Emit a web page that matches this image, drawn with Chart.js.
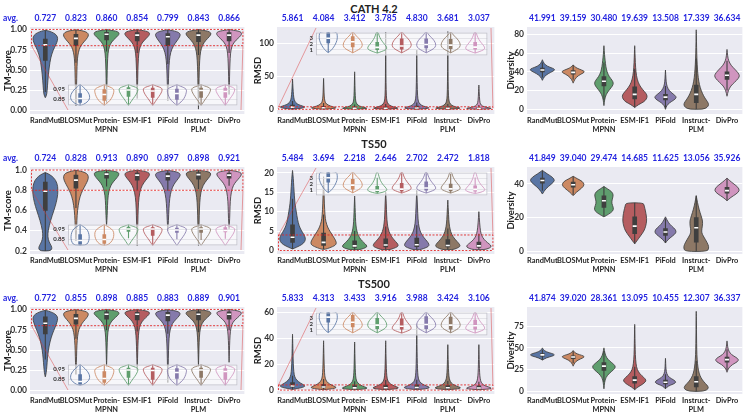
<!DOCTYPE html>
<html>
<head>
<meta charset="utf-8">
<script src="https://cdn.jsdelivr.net/npm/chart.js@4.4.1/dist/chart.umd.min.js"></script>
<style>
  html, body { margin: 0; padding: 0; background: #fff; width: 748px; height: 417px; overflow: hidden; }
  #page { position: relative; width: 748px; height: 417px; }
  canvas { position: absolute; }
  .title { position: absolute; left: 0; width: 748px; text-align: center; font: bold 11px Lato, sans-serif; color: #222; line-height: 13px; }
</style>
</head>
<body>
<div id="page"></div>
<script>
const CATEGORIES = ['RandMut', 'BLOSMut', 'Protein-MPNN', 'ESM-IF1', 'PiFold', 'Instruct-PLM', 'DivPro'];
const TICK_LABELS = ['RandMut', 'BLOSMut', ['Protein-', 'MPNN'], 'ESM-IF1', 'PiFold', ['Instruct-', 'PLM'], 'DivPro'];
const COLORS = ['#5975a4', '#cc8963', '#5f9e6e', '#b55d60', '#857aab', '#8d7866', '#d095bf'];
const EDGE = '#3f3f3f';

// averages printed above each panel
const cathTmAvg = [0.727, 0.823, 0.860, 0.854, 0.799, 0.843, 0.866];
const cathRmsdAvg = [5.861, 4.084, 3.412, 3.785, 4.830, 3.681, 3.037];
const cathDivAvg = [41.991, 39.159, 30.480, 19.639, 13.508, 17.339, 36.634];
const ts50TmAvg = [0.724, 0.828, 0.913, 0.890, 0.897, 0.898, 0.921];
const ts50RmsdAvg = [5.484, 3.694, 2.218, 2.646, 2.702, 2.472, 1.818];
const ts50DivAvg = [41.849, 39.040, 29.474, 14.685, 11.625, 13.056, 35.926];
const ts500TmAvg = [0.772, 0.855, 0.898, 0.885, 0.883, 0.889, 0.901];
const ts500RmsdAvg = [5.833, 4.313, 3.433, 3.916, 3.988, 3.424, 3.106];
const ts500DivAvg = [41.874, 39.020, 28.361, 13.095, 10.455, 12.307, 36.337];

// tick values
const tmTicks = [0, 0.25, 0.5, 0.75, 1.0];
const ts50TmTicks = [0.2, 0.4, 0.6, 0.8, 1.0];
const cathRmsdTicks = [0, 50, 100];
const ts50RmsdTicks = [0, 5, 10, 15, 20];
const ts500RmsdTicks = [0, 20, 40, 60];
const cathDivTicks = [0, 20, 40, 60, 80];
const ts50DivTicks = [0, 20, 40];
const ts500DivTicks = [0, 25, 50, 75];
const tmInsetTicks = [0.85, 0.95];
const rmsdInsetTicks = [1, 2, 3];

// violin outlines: value, half width (in category units)
const cathTmShape = [
  [0.16,0, 0.2,0.05, 0.3,0.07, 0.45,0.1, 0.6,0.15, 0.7,0.21, 0.78,0.3, 0.84,0.38, 0.89,0.41, 0.93,0.37, 0.96,0.26, 0.98,0.12, 0.99,0],
  [0.06,0, 0.2,0.015, 0.4,0.025, 0.55,0.035, 0.65,0.05, 0.72,0.08, 0.78,0.13, 0.83,0.22, 0.88,0.34, 0.92,0.41, 0.95,0.4, 0.97,0.33, 0.985,0.2, 0.995,0],
  [0.1,0, 0.3,0.012, 0.5,0.02, 0.65,0.035, 0.75,0.06, 0.82,0.12, 0.87,0.22, 0.91,0.34, 0.94,0.41, 0.965,0.4, 0.98,0.3, 0.99,0.14, 0.998,0],
  [0.15,0, 0.3,0.012, 0.5,0.022, 0.65,0.038, 0.75,0.065, 0.82,0.13, 0.87,0.24, 0.91,0.35, 0.94,0.41, 0.965,0.39, 0.98,0.28, 0.99,0.13, 0.998,0],
  [0.12,0, 0.3,0.015, 0.5,0.03, 0.62,0.05, 0.72,0.09, 0.8,0.18, 0.86,0.3, 0.91,0.39, 0.94,0.41, 0.965,0.35, 0.98,0.22, 0.99,0.1, 0.995,0],
  [0.02,0, 0.2,0.012, 0.4,0.02, 0.55,0.03, 0.68,0.05, 0.77,0.09, 0.84,0.18, 0.89,0.3, 0.93,0.4, 0.96,0.41, 0.98,0.3, 0.99,0.14, 0.998,0],
  [0.2,0, 0.35,0.012, 0.5,0.02, 0.65,0.035, 0.75,0.06, 0.82,0.12, 0.87,0.23, 0.91,0.35, 0.94,0.41, 0.965,0.4, 0.98,0.3, 0.99,0.14, 0.998,0]
];
const cathTmBox = [[0.62,0.81,0.88], [0.80,0.89,0.94], [0.87,0.94,0.965], [0.86,0.93,0.96], [0.80,0.91,0.95], [0.85,0.93,0.96], [0.86,0.93,0.96]];

const ts50TmShape = [
  [0.2,0.15, 0.22,0.22, 0.25,0.2, 0.29,0.12, 0.34,0.08, 0.4,0.09, 0.5,0.17, 0.6,0.28, 0.68,0.36, 0.76,0.41, 0.84,0.41, 0.9,0.34, 0.94,0.22, 0.965,0.08, 0.975,0],
  [0.3,0, 0.4,0.02, 0.5,0.03, 0.6,0.05, 0.7,0.1, 0.77,0.17, 0.83,0.27, 0.88,0.36, 0.92,0.41, 0.955,0.39, 0.975,0.3, 0.99,0.14, 0.997,0],
  [0.45,0, 0.55,0.02, 0.65,0.03, 0.75,0.05, 0.82,0.1, 0.87,0.18, 0.91,0.3, 0.94,0.38, 0.965,0.41, 0.98,0.36, 0.99,0.22, 0.998,0],
  [0.25,0, 0.4,0.015, 0.55,0.025, 0.68,0.04, 0.78,0.08, 0.85,0.16, 0.9,0.28, 0.935,0.38, 0.96,0.41, 0.978,0.36, 0.99,0.2, 0.998,0],
  [0.4,0, 0.5,0.02, 0.62,0.035, 0.72,0.06, 0.8,0.11, 0.86,0.2, 0.9,0.3, 0.935,0.39, 0.958,0.41, 0.975,0.35, 0.988,0.2, 0.996,0],
  [0.25,0, 0.4,0.015, 0.55,0.025, 0.68,0.04, 0.78,0.075, 0.85,0.15, 0.9,0.27, 0.935,0.37, 0.962,0.41, 0.98,0.36, 0.99,0.2, 0.998,0],
  [0.42,0, 0.52,0.02, 0.64,0.03, 0.74,0.05, 0.82,0.1, 0.87,0.18, 0.91,0.3, 0.94,0.38, 0.962,0.41, 0.978,0.36, 0.99,0.2, 0.998,0]
];
const ts50TmBox = [[0.6,0.79,0.88], [0.82,0.9,0.95], [0.92,0.96,0.975], [0.9,0.95,0.97], [0.9,0.94,0.97], [0.91,0.955,0.975], [0.92,0.95,0.97]];

const ts500TmShape = [
  [0.17,0, 0.22,0.03, 0.3,0.05, 0.4,0.07, 0.5,0.1, 0.6,0.15, 0.7,0.23, 0.78,0.32, 0.84,0.38, 0.89,0.41, 0.93,0.37, 0.96,0.25, 0.98,0.1, 0.99,0],
  [0.2,0, 0.35,0.015, 0.5,0.025, 0.62,0.04, 0.72,0.07, 0.79,0.13, 0.85,0.24, 0.9,0.36, 0.935,0.41, 0.96,0.39, 0.978,0.3, 0.99,0.14, 0.997,0],
  [0.3,0, 0.45,0.012, 0.6,0.022, 0.72,0.04, 0.8,0.08, 0.86,0.17, 0.905,0.3, 0.94,0.4, 0.962,0.41, 0.98,0.33, 0.99,0.18, 0.998,0],
  [0.25,0, 0.4,0.012, 0.55,0.022, 0.68,0.038, 0.78,0.07, 0.85,0.15, 0.9,0.28, 0.935,0.38, 0.958,0.41, 0.977,0.35, 0.99,0.18, 0.998,0],
  [0.1,0, 0.3,0.012, 0.5,0.022, 0.65,0.04, 0.75,0.07, 0.83,0.15, 0.88,0.27, 0.92,0.37, 0.95,0.41, 0.972,0.35, 0.988,0.18, 0.997,0],
  [0.3,0, 0.45,0.012, 0.6,0.022, 0.72,0.04, 0.8,0.08, 0.86,0.17, 0.905,0.3, 0.94,0.4, 0.962,0.41, 0.98,0.33, 0.99,0.18, 0.998,0],
  [0.35,0, 0.5,0.012, 0.62,0.022, 0.73,0.04, 0.81,0.08, 0.86,0.16, 0.9,0.28, 0.935,0.38, 0.958,0.41, 0.977,0.35, 0.99,0.18, 0.998,0]
];
const ts500TmBox = [[0.7,0.83,0.91], [0.82,0.89,0.94], [0.88,0.94,0.97], [0.87,0.94,0.965], [0.86,0.93,0.965], [0.87,0.94,0.97], [0.88,0.94,0.97]];

// TM-score insets (only structures above 0.8)
const tmInsetLow = [0.79,0.05, 0.81,0.22, 0.84,0.36, 0.87,0.4, 0.9,0.38, 0.93,0.31, 0.96,0.2, 0.98,0.1, 0.995,0.04, 1.0,0.02];
const tmInsetFlat = [0.79,0.24, 0.82,0.34, 0.86,0.38, 0.9,0.37, 0.94,0.32, 0.97,0.2, 0.99,0.07, 1.0,0.03];
const tmInsetBroad = [0.79,0.1, 0.82,0.28, 0.86,0.37, 0.9,0.4, 0.94,0.37, 0.97,0.22, 0.99,0.07, 1.0,0.03];
const tmInsetMid = [0.79,0, 0.81,0.1, 0.84,0.24, 0.88,0.34, 0.92,0.39, 0.945,0.4, 0.962,0.35, 0.977,0.22, 0.99,0.08, 1.0,0.03];
const tmInsetHigh = [0.79,0, 0.81,0.06, 0.845,0.15, 0.88,0.26, 0.915,0.35, 0.948,0.4, 0.967,0.36, 0.98,0.22, 0.992,0.08, 1.0,0.03];
const cathTmInsetShape = [tmInsetLow, tmInsetMid, tmInsetHigh, tmInsetHigh, tmInsetMid, tmInsetHigh, tmInsetHigh];
const cathTmInsetBox = [[0.82,0.86,0.91], [0.84,0.9,0.95], [0.88,0.945,0.97], [0.87,0.935,0.965], [0.85,0.91,0.955], [0.87,0.94,0.965], [0.87,0.93,0.965]];
const ts50TmInsetShape = [tmInsetFlat, tmInsetBroad, tmInsetHigh, tmInsetHigh, tmInsetHigh, tmInsetHigh, tmInsetHigh];
const ts50TmInsetBox = [[0.8,0.84,0.9], [0.81,0.85,0.9], [0.93,0.955,0.975], [0.89,0.955,0.97], [0.92,0.945,0.965], [0.92,0.955,0.97], [0.925,0.94,0.97]];
const ts500TmInsetShape = [tmInsetLow, tmInsetMid, tmInsetHigh, tmInsetHigh, tmInsetMid, tmInsetHigh, tmInsetHigh];
const ts500TmInsetBox = [[0.80,0.83,0.9], [0.82,0.86,0.93], [0.87,0.945,0.965], [0.85,0.94,0.965], [0.86,0.92,0.96], [0.87,0.945,0.965], [0.85,0.93,0.96]];

const cathRmsdShape = [
  [0.3,0, 1,0.16, 2,0.33, 3.5,0.41, 5,0.33, 7,0.2, 10,0.1, 15,0.05, 22,0.03, 32,0.015, 46,0],
  [0.3,0, 1,0.25, 2,0.41, 3,0.37, 5,0.22, 8,0.09, 12,0.04, 20,0.02, 30,0.012, 47,0],
  [0.3,0, 1,0.35, 1.8,0.41, 3,0.3, 5,0.15, 8,0.07, 12,0.035, 20,0.02, 35,0.01, 57,0],
  [0.3,0, 1,0.33, 1.9,0.41, 3,0.32, 5,0.17, 8,0.08, 12,0.04, 20,0.02, 40,0.01, 70,0.006, 117,0],
  [0.3,0, 1,0.28, 2,0.41, 3.2,0.35, 5,0.2, 8,0.1, 12,0.05, 20,0.025, 40,0.012, 65,0.006, 90,0],
  [0.3,0, 1,0.32, 1.9,0.41, 3,0.32, 5,0.17, 8,0.08, 12,0.04, 20,0.02, 40,0.01, 75,0.005, 118,0],
  [0.3,0, 0.9,0.36, 1.6,0.41, 2.6,0.3, 4,0.16, 6.5,0.07, 10,0.035, 18,0.018, 37,0]
];
const cathRmsdBox = [[2.3,3.5,6.5], [1.5,2.5,4.8], [1.0,1.6,3.5], [1.1,1.8,4.0], [1.3,2.2,5.0], [1.1,1.8,3.9], [1.0,1.6,3.2]];

const ts50RmsdShape = [
  [0.4,0, 0.8,0.12, 1.5,0.3, 2.3,0.4, 3.2,0.42, 4.2,0.36, 5.2,0.28, 6.4,0.21, 8,0.16, 10,0.12, 12,0.08, 14,0.06, 16.5,0.04, 18.6,0.025, 20.6,0],
  [0.3,0.05, 0.7,0.2, 1.3,0.38, 2,0.42, 3,0.36, 4,0.28, 5,0.2, 6,0.13, 7.5,0.07, 9,0.045, 12,0.025, 15,0.015, 19,0],
  [0.2,0.15, 0.5,0.28, 0.9,0.4, 1.4,0.38, 2,0.3, 2.8,0.2, 3.8,0.12, 5,0.07, 6.5,0.04, 8.5,0.025, 11,0.015, 14,0],
  [0.2,0.12, 0.5,0.24, 1,0.4, 1.6,0.4, 2.3,0.32, 3.2,0.22, 4.2,0.14, 5.5,0.08, 7,0.05, 9,0.03, 12,0.02, 15,0],
  [0.2,0.1, 0.5,0.22, 1,0.38, 1.6,0.4, 2.4,0.33, 3.4,0.22, 4.5,0.13, 6,0.07, 8,0.04, 11,0.025, 15.5,0],
  [0.2,0.14, 0.5,0.27, 1,0.4, 1.6,0.38, 2.3,0.3, 3.2,0.2, 4.2,0.12, 5.5,0.07, 7,0.04, 9,0.025, 13,0],
  [0.2,0.16, 0.5,0.3, 0.9,0.4, 1.4,0.38, 2,0.28, 2.8,0.17, 3.8,0.09, 5,0.05, 7,0.025, 10,0]
];
const ts50RmsdBox = [[2.1,3.4,6.6], [1.3,2.1,4.5], [0.8,1.2,2.5], [0.9,1.4,3.0], [1.0,1.5,3.2], [0.9,1.3,2.8], [0.8,1.2,2.2]];

const ts500RmsdShape = [
  [0.5,0, 1.2,0.15, 2,0.32, 3,0.41, 4,0.36, 5.5,0.25, 7.5,0.14, 10,0.07, 14,0.04, 20,0.025, 28,0.015, 36,0.008, 43,0],
  [0.3,0, 0.8,0.2, 1.5,0.38, 2.2,0.41, 3.2,0.32, 4.5,0.2, 6.5,0.1, 9,0.05, 13,0.03, 20,0.018, 28,0.01, 38,0],
  [0.3,0, 0.7,0.25, 1.3,0.41, 2,0.38, 3,0.26, 4.5,0.14, 6.5,0.07, 9,0.04, 13,0.025, 20,0.015, 28,0.008, 37,0],
  [0.3,0, 0.7,0.22, 1.3,0.4, 2,0.41, 3,0.3, 4.5,0.16, 6.5,0.08, 9,0.045, 13,0.028, 20,0.016, 28,0.009, 38,0],
  [0.3,0, 0.8,0.2, 1.5,0.39, 2.2,0.41, 3.2,0.31, 4.7,0.17, 6.5,0.09, 9,0.05, 13,0.03, 20,0.018, 30,0.01, 40,0.006, 51,0],
  [0.3,0, 0.7,0.23, 1.3,0.4, 2,0.41, 3,0.29, 4.5,0.15, 6.5,0.08, 9,0.045, 13,0.027, 20,0.015, 27,0.008, 35,0],
  [0.3,0, 0.7,0.25, 1.2,0.41, 1.9,0.38, 2.8,0.26, 4,0.14, 6,0.07, 9,0.04, 13,0.024, 20,0.014, 27,0.008, 35,0]
];
const ts500RmsdBox = [[2.3,3.2,5.8], [1.6,2.4,4.4], [1.1,1.7,3.4], [1.2,1.8,3.8], [1.3,2.0,4.0], [1.2,1.8,3.5], [1.1,1.6,3.2]];

// RMSD insets (only structures below 4 A)
const rmsdInsetWide = [0.5,0, 0.8,0.1, 1.2,0.18, 1.7,0.26, 2.3,0.33, 2.9,0.37, 3.5,0.37, 4.2,0.34];
const rmsdInsetMid = [0.45,0, 0.8,0.15, 1.2,0.32, 1.7,0.4, 2.3,0.37, 2.9,0.27, 3.4,0.15, 3.8,0.07, 4.1,0.04];
const rmsdInsetLow = [0.4,0, 0.65,0.16, 0.95,0.34, 1.25,0.4, 1.65,0.36, 2.2,0.25, 2.8,0.15, 3.4,0.08, 4.1,0.04];
const rmsdInsetLowest = [0.35,0, 0.5,0.2, 0.8,0.38, 1.05,0.4, 1.45,0.33, 1.95,0.22, 2.6,0.13, 3.3,0.07, 4.1,0.03];
const cathRmsdInsetShape = [rmsdInsetWide, rmsdInsetMid, rmsdInsetLow, rmsdInsetMid, rmsdInsetMid, rmsdInsetMid, rmsdInsetLow];
const cathRmsdInsetBox = [[2.2,3.0,4.2], [1.5,2.4,3.3], [1.0,1.4,2.3], [1.1,1.65,2.9], [1.3,1.9,2.9], [1.2,1.8,2.8], [1.1,1.45,2.3]];
const ts50RmsdInsetShape = [rmsdInsetWide, rmsdInsetMid, rmsdInsetLowest, rmsdInsetLow, rmsdInsetLow, rmsdInsetLow, rmsdInsetLowest];
const ts50RmsdInsetBox = [[2.3,3.1,4.2], [1.1,1.8,2.8], [0.6,0.9,1.6], [0.75,1.1,2.1], [0.9,1.3,2.4], [0.8,1.15,2.0], [0.75,1.05,1.7]];
const ts500RmsdInsetShape = [rmsdInsetWide, rmsdInsetMid, rmsdInsetMid, rmsdInsetLow, rmsdInsetMid, rmsdInsetMid, rmsdInsetLow];
const ts500RmsdInsetBox = [[2.3,3.2,4.2], [1.5,2.3,3.5], [1.2,1.8,3.0], [1.1,1.6,2.9], [1.2,1.9,3.3], [1.1,1.8,3.2], [1.1,1.7,2.7]];

const cathDivShape = [
  [31,0, 35,0.06, 38,0.18, 41,0.36, 42.5,0.41, 44,0.33, 46,0.16, 49,0.05, 53,0],
  [28,0, 32,0.05, 36,0.16, 39,0.34, 40.5,0.37, 42,0.28, 44,0.12, 46,0.04, 47.5,0],
  [4,0, 10,0.02, 16,0.07, 21,0.18, 25,0.28, 28,0.31, 31,0.27, 35,0.17, 40,0.1, 46,0.06, 52,0.04, 58,0.02, 68,0],
  [2,0, 5,0.12, 8,0.3, 11,0.38, 14,0.41, 17,0.37, 21,0.26, 26,0.15, 32,0.08, 40,0.04, 50,0.02, 60,0.01, 68,0],
  [0,0, 4,0.04, 7,0.13, 10,0.28, 12.5,0.36, 15,0.31, 18,0.18, 22,0.08, 27,0.03, 33,0.015, 42,0],
  [0,0.22, 2,0.36, 5,0.41, 8,0.37, 12,0.28, 17,0.2, 23,0.13, 30,0.08, 38,0.05, 48,0.03, 60,0.015, 72,0.008, 85,0],
  [14,0, 20,0.04, 25,0.12, 29,0.25, 33,0.37, 36,0.41, 39,0.36, 43,0.25, 47,0.13, 52,0.05, 57,0.02, 64,0]
];
const cathDivBox = [[40,42,44], [37.5,39.5,41.5], [25,30,35], [11,16,24], [10,13,16], [7,16,26], [32,36.5,40]];

const ts50DivShape = [
  [34,0, 37,0.1, 40,0.3, 42,0.41, 44,0.33, 46,0.15, 48,0],
  [33,0, 35,0.1, 37.5,0.28, 39.5,0.37, 41.5,0.3, 43,0.14, 44.5,0],
  [20.5,0, 22,0.15, 24,0.3, 26,0.31, 28.5,0.25, 31,0.27, 33.5,0.31, 35.5,0.25, 37,0.12, 38.5,0],
  [4.5,0, 6,0.06, 9,0.18, 12,0.3, 15,0.36, 18,0.39, 21,0.38, 24,0.35, 27,0.31, 28.8,0.28],
  [5,0, 7,0.08, 9,0.22, 11,0.35, 13,0.33, 15,0.2, 17,0.1, 19,0.04, 20.5,0],
  [0,0.36, 2,0.41, 4,0.39, 7,0.3, 10,0.2, 12,0.17, 15,0.2, 18,0.21, 21,0.16, 25,0.09, 29,0.04, 33,0],
  [30,0, 32,0.12, 34,0.3, 36,0.41, 38,0.36, 40,0.22, 42,0.08, 43.5,0]
];
const ts50DivBox = [[40.5,42,43.5], [38,39.5,41], [26,30,33], [10.5,15,20.5], [9.5,11.5,13.5], [5.5,14,20], [34.5,36,38]];

const ts500DivShape = [
  [36,0, 38.5,0.12, 40.5,0.32, 42,0.41, 43.5,0.32, 45.5,0.12, 48,0.03, 50,0],
  [29,0, 33,0.05, 36,0.15, 38.5,0.32, 40,0.37, 41.5,0.28, 43,0.13, 45,0.04, 47,0],
  [3,0, 10,0.02, 16,0.06, 21,0.18, 25,0.32, 28,0.38, 31,0.33, 35,0.18, 39,0.08, 44,0.03, 50,0],
  [2,0, 5,0.1, 8,0.25, 11,0.35, 13,0.37, 16,0.3, 20,0.17, 25,0.08, 32,0.04, 42,0.02, 55,0.012, 66,0.007, 77,0],
  [3,0, 6,0.08, 8.5,0.26, 10.5,0.35, 13,0.28, 16,0.12, 20,0.04, 26,0.015, 32,0.008, 38,0],
  [0,0.25, 3,0.4, 6,0.38, 9,0.3, 13,0.2, 18,0.12, 24,0.07, 32,0.04, 42,0.02, 55,0.012, 70,0.008, 92,0],
  [22,0, 27,0.05, 31,0.18, 34,0.34, 36.5,0.38, 39,0.3, 42,0.15, 46,0.06, 51,0.02, 58,0]
];
const ts500DivBox = [[40.5,42,43.5], [37.5,39.5,41], [24,29,33], [9.5,13,17], [8.5,10.5,13], [5,11,17], [33.5,36.5,39.5]];

// ---- layout ----
const COLS = [
  { left: 0, width: 250, axis: 30, padRight: 5, titlePad: 2 },
  { left: 250, width: 250, axis: 27, padRight: 4, titlePad: 2 },
  { left: 500, width: 248, axis: 27, padRight: 2, titlePad: 5 }
];
const ROW_H = 140, PLOT_TOP = 27, XAXIS_H = 26, INSET_AXIS = 20;
const TITLE_TOP = [2, 137, 277];
const INSET_FRAC = { tm: [0.177, 0.985, 0.61, 0.955], rmsd: [0.178, 0.985, 0.012, 0.38] };

const ROWS = [
  { title: 'CATH 4.2', panels: [
    { avg: cathTmAvg, shape: cathTmShape, box: cathTmBox, range: [-0.04, 1.03], ticks: tmTicks, dec: 2, label: 'TM-score',
      zoom: { kind: 'tm', lo: 0.8, hi: 1.0, shape: cathTmInsetShape, box: cathTmInsetBox, range: [0.79, 1.0], ticks: tmInsetTicks, dec: 2 } },
    { avg: cathRmsdAvg, shape: cathRmsdShape, box: cathRmsdBox, range: [-7, 125], ticks: cathRmsdTicks, dec: 0, label: 'RMSD',
      zoom: { kind: 'rmsd', lo: 0, hi: 4, shape: cathRmsdInsetShape, box: cathRmsdInsetBox, range: [0, 4], ticks: rmsdInsetTicks, dec: 0 } },
    { avg: cathDivAvg, shape: cathDivShape, box: cathDivBox, range: [-5, 88], ticks: cathDivTicks, dec: 0, label: 'Diversity' }
  ]},
  { title: 'TS50', panels: [
    { avg: ts50TmAvg, shape: ts50TmShape, box: ts50TmBox, range: [0.17, 1.03], ticks: ts50TmTicks, dec: 1, label: 'TM-score',
      zoom: { kind: 'tm', lo: 0.8, hi: 1.0, shape: ts50TmInsetShape, box: ts50TmInsetBox, range: [0.79, 1.0], ticks: tmInsetTicks, dec: 2 } },
    { avg: ts50RmsdAvg, shape: ts50RmsdShape, box: ts50RmsdBox, range: [-0.9, 21.5], ticks: ts50RmsdTicks, dec: 0, label: 'RMSD',
      zoom: { kind: 'rmsd', lo: 0, hi: 4, shape: ts50RmsdInsetShape, box: ts50RmsdInsetBox, range: [0, 4], ticks: rmsdInsetTicks, dec: 0 } },
    { avg: ts50DivAvg, shape: ts50DivShape, box: ts50DivBox, range: [-1.5, 50], ticks: ts50DivTicks, dec: 0, label: 'Diversity' }
  ]},
  { title: 'TS500', panels: [
    { avg: ts500TmAvg, shape: ts500TmShape, box: ts500TmBox, range: [-0.04, 1.03], ticks: tmTicks, dec: 2, label: 'TM-score',
      zoom: { kind: 'tm', lo: 0.8, hi: 1.0, shape: ts500TmInsetShape, box: ts500TmInsetBox, range: [0.79, 1.0], ticks: tmInsetTicks, dec: 2 } },
    { avg: ts500RmsdAvg, shape: ts500RmsdShape, box: ts500RmsdBox, range: [-3, 64], ticks: ts500RmsdTicks, dec: 0, label: 'RMSD',
      zoom: { kind: 'rmsd', lo: 0, hi: 4, shape: ts500RmsdInsetShape, box: ts500RmsdInsetBox, range: [0, 4], ticks: rmsdInsetTicks, dec: 0 } },
    { avg: ts500DivAvg, shape: ts500DivShape, box: ts500DivBox, range: [-3, 97], ticks: ts500DivTicks, dec: 0, label: 'Diversity' }
  ]}
];

const page = document.getElementById('page');

function addCanvas(left, top, w, h) {
  const c = document.createElement('canvas');
  c.width = w; c.height = h;
  c.style.left = left + 'px'; c.style.top = top + 'px';
  c.style.width = w + 'px'; c.style.height = h + 'px';
  page.appendChild(c);
  return c;
}

function insetRect(a, f) {
  const w = a.right - a.left, h = a.bottom - a.top;
  return { l: Math.round(a.left + f[0] * w), r: Math.round(a.left + f[1] * w),
           t: Math.round(a.top + f[2] * h), b: Math.round(a.top + f[3] * h) };
}

// smooth closed outline through the violin knots
function violinPath(ctx, xs, ys, idx, shape) {
  const n = shape.length / 2, pts = [];
  for (let k = 0; k < n; k++) pts.push([xs.getPixelForValue(idx + shape[2 * k + 1]), ys.getPixelForValue(shape[2 * k])]);
  for (let k = n - 1; k >= 0; k--) pts.push([xs.getPixelForValue(idx - shape[2 * k + 1]), ys.getPixelForValue(shape[2 * k])]);
  const m = pts.length;
  const mid = (a, b) => [(a[0] + b[0]) / 2, (a[1] + b[1]) / 2];
  const s = mid(pts[m - 1], pts[0]);
  ctx.beginPath();
  ctx.moveTo(s[0], s[1]);
  for (let i = 0; i < m; i++) {
    const p = pts[i], q = mid(p, pts[(i + 1) % m]);
    ctx.quadraticCurveTo(p[0], p[1], q[0], q[1]);
  }
  ctx.closePath();
}

function panelPlugin(p, col, isInset) {
  return {
    id: 'violins',
    beforeDraw(chart) {
      const { ctx, chartArea: a } = chart;
      ctx.save();
      ctx.fillStyle = isInset ? 'rgba(255,255,255,0.62)' : '#eaeaf2';
      ctx.fillRect(a.left, a.top, a.right - a.left, a.bottom - a.top);
      ctx.restore();
    },
    beforeDatasetsDraw(chart) {
      const { ctx, chartArea: a, scales: { x, y } } = chart;
      ctx.save();
      ctx.beginPath();
      ctx.rect(a.left, a.top, a.right - a.left, a.bottom - a.top);
      ctx.clip();
      p.shape.forEach((s, i) => {
        violinPath(ctx, x, y, i, s);
        if (!isInset) { ctx.fillStyle = COLORS[i]; ctx.fill(); }
        ctx.strokeStyle = isInset ? COLORS[i] : EDGE;
        ctx.lineWidth = 0.85;
        ctx.stroke();
        // whisker, 1.5 IQR
        const [q1, , q3] = p.box[i], iqr = q3 - q1;
        const lo = Math.max(s[0], q1 - 1.5 * iqr), hi = Math.min(s[s.length - 2], q3 + 1.5 * iqr);
        const px = x.getPixelForValue(i);
        ctx.beginPath();
        ctx.moveTo(px, y.getPixelForValue(lo));
        ctx.lineTo(px, y.getPixelForValue(hi));
        ctx.lineWidth = 1.1;
        ctx.stroke();
      });
      ctx.restore();
    },
    afterDraw(chart) {
      const { ctx, chartArea: a, scales: { x, y } } = chart;
      ctx.save();
      if (isInset) {
        ctx.strokeStyle = 'rgba(185,185,195,0.9)';
        ctx.lineWidth = 0.8;
        ctx.strokeRect(a.left + 0.5, a.top + 0.5, a.right - a.left - 1, a.bottom - a.top - 1);
        ctx.restore();
        return;
      }
      // averages
      ctx.font = 'bold 8.5px Lato';
      ctx.fillStyle = '#2424e0';
      ctx.textBaseline = 'middle';
      ctx.textAlign = 'center';
      p.avg.forEach((v, i) => ctx.fillText(v.toFixed(3), x.getPixelForValue(i), a.top - 9));
      if (col === 0) { ctx.textAlign = 'left'; ctx.fillText('avg.', 3, a.top - 9); }
      // zoom box and connectors
      if (p.zoom) {
        const r = insetRect(a, INSET_FRAC[p.zoom.kind]);
        const yHi = y.getPixelForValue(p.zoom.hi), yLo = y.getPixelForValue(p.zoom.lo);
        ctx.strokeStyle = '#e02828';
        ctx.lineWidth = 0.9;
        ctx.setLineDash([2, 1.5]);
        ctx.strokeRect(a.left + 1.5, yHi, a.right - a.left - 3, yLo - yHi);
        ctx.setLineDash([]);
        ctx.strokeStyle = 'rgba(220,60,60,0.6)';
        ctx.lineWidth = 0.8;
        ctx.beginPath();
        if (p.zoom.kind === 'tm') {
          ctx.moveTo(a.left + 1.5, yLo); ctx.lineTo(r.l, r.b);
          ctx.moveTo(a.right - 1.5, yLo); ctx.lineTo(r.r, r.b);
        } else {
          ctx.moveTo(a.left + 1.5, yHi); ctx.lineTo(r.l, r.t);
          ctx.moveTo(a.right - 1.5, yHi); ctx.lineTo(r.r, r.t);
        }
        ctx.stroke();
      }
      ctx.restore();
    }
  };
}

function makeChart(canvas, p, col, isInset) {
  const c = COLS[col];
  const tickFont = { family: 'Lato', size: isInset ? 6 : 8.5, weight: 'bold' };
  return new Chart(canvas, {
    type: 'bar',
    data: {
      labels: TICK_LABELS,
      datasets: [
        { type: 'line', label: 'median', data: p.box.map(b => b[1]), showLine: false,
          pointStyle: 'line', pointRadius: 2, pointBorderColor: '#ffffff', pointBorderWidth: 1.6, order: 0 },
        { type: 'bar', label: 'quartiles', data: p.box.map(b => [b[0], b[2]]),
          backgroundColor: isInset ? COLORS : EDGE, borderWidth: 0, barThickness: isInset ? 3 : 4,
          grouped: false, order: 1 }
      ]
    },
    options: {
      responsive: false,
      animation: false,
      events: [],
      layout: { padding: isInset ? { left: 0, top: 2, right: 2, bottom: 2 } : { left: 0, top: PLOT_TOP, right: c.padRight, bottom: 0 } },
      plugins: { legend: { display: false }, tooltip: { enabled: false } },
      scales: {
        x: {
          display: !isInset,
          grid: { display: false, drawTicks: false },
          border: { display: false },
          ticks: { font: { family: 'Lato', size: 7.4, weight: 'bold', lineHeight: 1.2 }, color: '#262626', padding: 2, maxRotation: 0, autoSkip: false },
          afterFit(s) { s.height = isInset ? 0 : XAXIS_H; }
        },
        y: {
          min: p.range[0], max: p.range[1],
          grid: { color: isInset ? '#dadadf' : '#ffffff', lineWidth: isInset ? 0.7 : 1, drawTicks: false },
          border: { display: false },
          ticks: { font: tickFont, color: '#333', padding: 3, callback: v => Number(v).toFixed(p.dec) },
          afterBuildTicks(s) { s.ticks = p.ticks.map(v => ({ value: v })); },
          afterFit(s) { s.width = isInset ? INSET_AXIS : c.axis; },
          title: { display: !isInset, text: p.label || '', color: '#222', font: { family: 'Lato', size: 9.5, weight: 'bold' }, padding: { top: c.titlePad, bottom: 0 } }
        }
      }
    },
    plugins: [panelPlugin(p, col, isInset)]
  });
}

ROWS.forEach((row, r) => {
  const t = document.createElement('div');
  t.className = 'title';
  t.textContent = row.title;
  t.style.top = TITLE_TOP[r] + 'px';
  page.appendChild(t);
  row.panels.forEach((p, ci) => {
    const col = COLS[ci];
    const cv = addCanvas(col.left, r * ROW_H, col.width, ROW_H);
    const chart = makeChart(cv, p, ci, false);
    if (p.zoom) {
      const rc = insetRect(chart.chartArea, INSET_FRAC[p.zoom.kind]);
      const ic = addCanvas(col.left + rc.l - INSET_AXIS, r * ROW_H + rc.t - 2, rc.r - rc.l + INSET_AXIS + 2, rc.b - rc.t + 4);
      makeChart(ic, p.zoom, ci, true);
    }
  });
});
</script>
</body>
</html>
